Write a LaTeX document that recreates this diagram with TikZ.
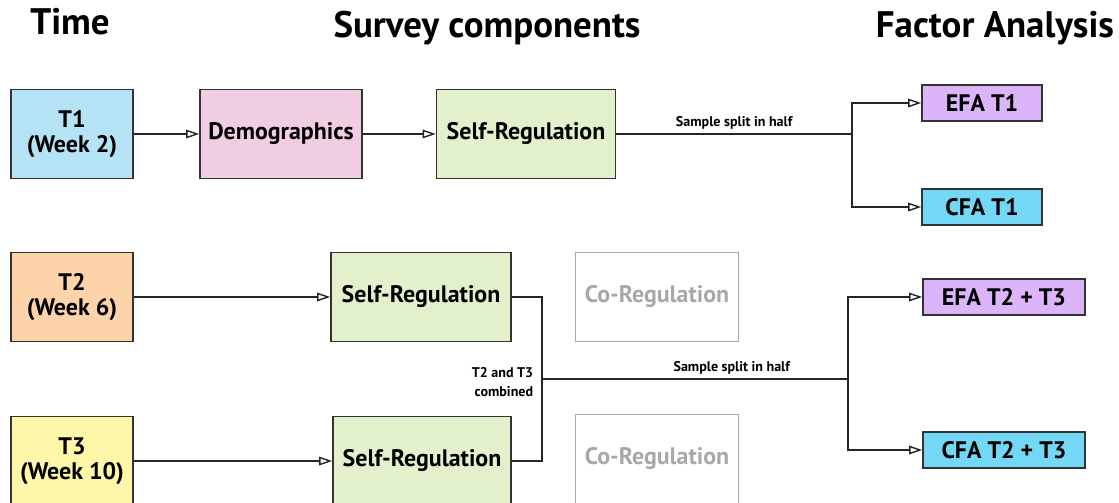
\documentclass[tikz,border=0pt]{standalone}
\usepackage{fontspec}
\setmainfont{PT Sans}
\usetikzlibrary{arrows.meta, calc}

\definecolor{timeblue}{HTML}{B5E2F5}
\definecolor{timepeach}{HTML}{FDD4AA}
\definecolor{timeyellow}{HTML}{FEF6A8}
\definecolor{demopink}{HTML}{F0CDE0}
\definecolor{selfgreen}{HTML}{E3F0CC}
\definecolor{efalilac}{HTML}{DCB4FA}
\definecolor{cfacyan}{HTML}{72D8F5}
\definecolor{cogray}{HTML}{A8A8A8}

\begin{document}
\begin{tikzpicture}[x=0.02cm, y=-0.02cm,
    box/.style={draw=black!80, line width=0.9pt, align=center, inner sep=0pt,
        font=\fontsize{13.6}{14}\selectfont\bfseries},
    bigbox/.style={box, minimum height=1.78cm},
    fabox/.style={box, minimum height=0.73cm},
    lbl/.style={font=\fontsize{8}{11}\selectfont\bfseries, inner sep=2pt},
    ttl/.style={font=\fontsize{21}{24}\selectfont\bfseries},
    arr/.style={-{Triangle[open, length=2.6mm, width=1.7mm]}},
    con/.style={draw=black!85, line width=0.8pt}]
    % 1 unit = 1 px of the 1119 x 503 frame, y runs downwards
    \clip (0,0) rectangle (1119,503);

    % Column heads
    \node[ttl] (ttime) at (70,22) {Time};
    \node[ttl] (tsurvey) at (487,28) {Survey components};
    \node[ttl] (tfactor) at (995,28) {Factor Analysis};

    % Time points
    \node[bigbox, fill=timeblue, minimum width=2.44cm] (t1) at (72,134) {T1\\(Week 2)};
    \node[bigbox, fill=timepeach, minimum width=2.44cm] (t2) at (72,297) {T2\\(Week 6)};
    \node[bigbox, fill=timeyellow, minimum width=2.44cm] (t3) at (72,461) {T3\\(Week 10)};

    % Survey components
    \node[bigbox, fill=demopink, minimum width=3.24cm] (demo) at (281,134) {Demographics};
    \node[bigbox, fill=selfgreen, minimum width=3.58cm] (sr1) at (526,134) {Self-Regulation};
    \node[bigbox, fill=selfgreen, minimum width=3.6cm] (sr2) at (421,297) {Self-Regulation};
    \node[bigbox, fill=selfgreen, minimum width=3.56cm] (sr3) at (422,461) {Self-Regulation};
    \node[bigbox, draw=cogray, text=cogray, minimum width=3.26cm] (co2) at (657,297) {Co-Regulation};
    \node[bigbox, draw=cogray, text=cogray, minimum width=3.26cm] (co3) at (657,459) {Co-Regulation};

    % Factor analyses
    \node[fabox, fill=efalilac, minimum width=2.4cm] (efa1) at (982,103) {EFA T1};
    \node[fabox, fill=cfacyan, minimum width=2.4cm] (cfa1) at (982,207) {CFA T1};
    \node[fabox, fill=efalilac, minimum width=3.24cm] (efa23) at (1004,297) {EFA T2 + T3};
    \node[fabox, fill=cfacyan, minimum width=3.24cm] (cfa23) at (1004,450) {CFA T2 + T3};

    % Connectors, first wave
    \coordinate (split1) at (852,134);
    \draw[con, arr] (t1) -- (demo);
    \draw[con, arr] (demo) -- (sr1);
    \draw[con] (sr1) -- node[lbl, above] {Sample split in half} (split1);
    \draw[con, arr] (split1) |- (efa1);
    \draw[con, arr] (split1) |- (cfa1);

    % Connectors, T2 and T3 pooled
    \coordinate (join) at (542,379);
    \coordinate (split2) at (848,379);
    \draw[con, arr] (t2) -- (sr2);
    \draw[con, arr] (t3) -- (sr3);
    \draw[con] (sr2) -| (join);
    \draw[con] (sr3) -| (join);
    \node[lbl, align=right, anchor=east] (comb) at (537,382) {T2 and T3\\combined};
    \draw[con] (join) -- node[lbl, above, pos=0.62] {Sample split in half} (split2);
    \draw[con, arr] (split2) |- (efa23);
    \draw[con, arr] (split2) |- (cfa23);
\end{tikzpicture}
\end{document}
